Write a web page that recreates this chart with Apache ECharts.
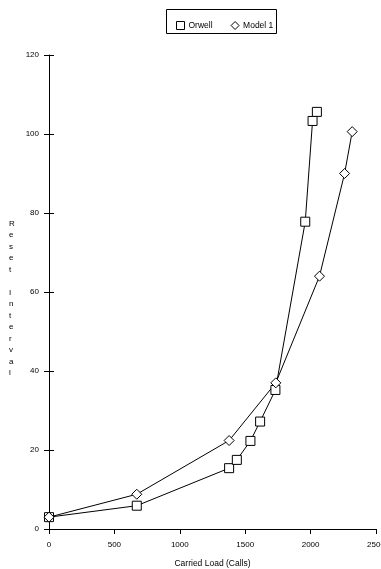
<!DOCTYPE html>
<html><head><meta charset="utf-8">
<script src="https://cdn.jsdelivr.net/npm/echarts@6/dist/echarts.min.js"></script>
<style>html,body{margin:0;padding:0;background:#fff}#c{width:381px;height:569px}</style>
</head><body><div id="c"></div>
<script>
const xTicks = [0, 500, 1000, 1500, 2000, 2500];
const yTicks = [0, 20, 40, 60, 80, 100, 120];
const orwellX = [0, 671, 1377, 1436, 1540, 1614, 1731, 1959, 2015, 2048];
const orwellY = [3, 5.9, 15.4, 17.5, 22.3, 27.2, 35.2, 77.8, 103.3, 105.6];
const modelX = [0, 671, 1377, 1734, 2068, 2260, 2318];
const modelY = [3, 8.8, 22.4, 37.0, 64.0, 90.0, 100.6];
const seriesNames = ['Orwell', 'Model 1'];
const xName = 'Carried Load (Calls)';
const yName = 'Reset Interval';

const font = 'Liberation Sans, Arial, sans-serif';
const chart = echarts.init(document.getElementById('c'), null, {renderer: 'canvas'});
const xBase = {type: 'value', min: xTicks[0], max: xTicks[xTicks.length - 1], interval: 500,
  splitLine: {show: false}};
const yBase = {type: 'value', min: yTicks[0], max: yTicks[yTicks.length - 1], interval: 20,
  splitLine: {show: false}};
chart.setOption({
  animation: false,
  backgroundColor: '#fff',
  grid: {left: 49, right: 5, top: 55, bottom: 40, containLabel: false, outerBoundsMode: 'none'},
  xAxis: [
    Object.assign({}, xBase, {
      axisLine: {show: true, lineStyle: {color: '#000', width: 1}},
      axisTick: {show: true, length: 5, lineStyle: {color: '#000'}},
      axisLabel: {color: '#000', fontSize: 8, fontFamily: font, margin: 12,
        formatter: v => String(v)},
      name: xName, nameLocation: 'middle', nameGap: 30,
      nameTextStyle: {color: '#000', fontSize: 8.5, fontFamily: font}
    }),
    Object.assign({}, xBase, {
      axisLine: {show: false}, axisLabel: {show: false},
      axisTick: {show: true, inside: true, length: 5, lineStyle: {color: '#000'}}
    })
  ],
  yAxis: [
    Object.assign({}, yBase, {
      axisLine: {show: true, lineStyle: {color: '#000', width: 1}},
      axisTick: {show: true, length: 5, lineStyle: {color: '#000'}},
      axisLabel: {color: '#000', fontSize: 8, fontFamily: font, margin: 10,
        formatter: v => String(v)}
    }),
    Object.assign({}, yBase, {
      position: 'left',
      axisLine: {show: false}, axisLabel: {show: false},
      axisTick: {show: true, inside: true, length: 5, lineStyle: {color: '#000'}}
    })
  ],
  legend: {
    left: 171, top: 16, itemGap: 18, itemWidth: 8, itemHeight: 8,
    data: [{name: seriesNames[0], icon: 'rect'}, {name: seriesNames[1], icon: 'diamond'}],
    itemStyle: {color: '#fff', borderColor: '#000', borderWidth: 1},
    textStyle: {color: '#000', fontSize: 8.5, fontFamily: font, padding: [0, 0, 0, -1]}
  },
  graphic: [
    {type: 'rect', shape: {x: 166.5, y: 9.5, width: 110, height: 24},
     style: {fill: 'none', stroke: '#000', lineWidth: 1}, silent: true},
    {type: 'text', left: 9, top: 218,
     style: {text: yName.split('').join('\n'), fontSize: 8, lineHeight: 11.5,
       fontFamily: font, fill: '#000', align: 'center'}}
  ],
  series: [
    {name: seriesNames[0], type: 'line', symbol: 'rect', symbolSize: 9,
     data: orwellX.map((x, i) => [x, orwellY[i]]),
     lineStyle: {color: '#000', width: 1},
     itemStyle: {color: '#fff', borderColor: '#000', borderWidth: 1}},
    {name: seriesNames[1], type: 'line', symbol: 'diamond', symbolSize: 10,
     data: modelX.map((x, i) => [x, modelY[i]]),
     lineStyle: {color: '#000', width: 1},
     itemStyle: {color: '#fff', borderColor: '#000', borderWidth: 1}}
  ]
});
</script></body></html>
